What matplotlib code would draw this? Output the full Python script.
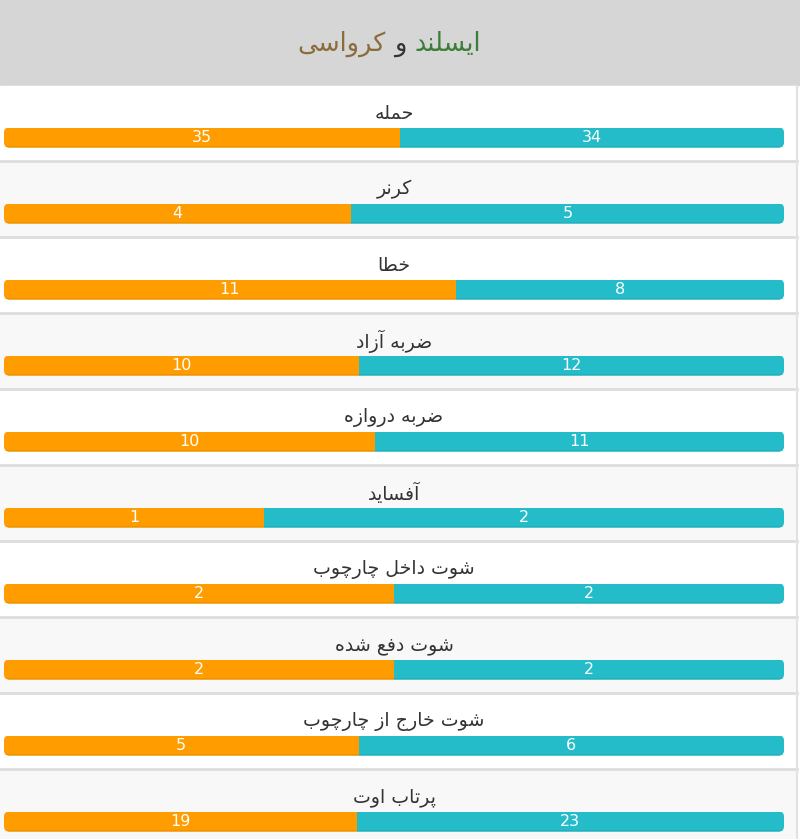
import matplotlib.pyplot as plt
from matplotlib.patches import FancyBboxPatch

# ---------------- داده ها ----------------
title_home = 'ایسلند'
title_and = 'و'
title_away = 'کرواسی'
stats = ['حمله', 'کرنر', 'خطا', 'ضربه آزاد', 'ضربه دروازه', 'آفساید',
         'شوت داخل چارچوب', 'شوت دفع شده', 'شوت خارج از چارچوب', 'پرتاب اوت']
left_vals = [35, 4, 11, 10, 10, 1, 2, 2, 5, 19]
right_vals = [34, 5, 8, 12, 11, 2, 2, 2, 6, 23]

ORANGE = '#fe9c00'
TEAL = '#25bcc9'

# ---------------- شکل دادن حروف عربی/فارسی (matplotlib خودش انجام نمیدهد) ----------------
FORMS = {
    'ا': (0xFE8D, 0xFE8E, None, None), 'آ': (0xFE81, 0xFE82, None, None),
    'ب': (0xFE8F, 0xFE90, 0xFE91, 0xFE92), 'ت': (0xFE95, 0xFE96, 0xFE97, 0xFE98),
    'ث': (0xFE99, 0xFE9A, 0xFE9B, 0xFE9C), 'ج': (0xFE9D, 0xFE9E, 0xFE9F, 0xFEA0),
    'ح': (0xFEA1, 0xFEA2, 0xFEA3, 0xFEA4), 'خ': (0xFEA5, 0xFEA6, 0xFEA7, 0xFEA8),
    'د': (0xFEA9, 0xFEAA, None, None), 'ذ': (0xFEAB, 0xFEAC, None, None),
    'ر': (0xFEAD, 0xFEAE, None, None), 'ز': (0xFEAF, 0xFEB0, None, None),
    'س': (0xFEB1, 0xFEB2, 0xFEB3, 0xFEB4), 'ش': (0xFEB5, 0xFEB6, 0xFEB7, 0xFEB8),
    'ص': (0xFEB9, 0xFEBA, 0xFEBB, 0xFEBC), 'ض': (0xFEBD, 0xFEBE, 0xFEBF, 0xFEC0),
    'ط': (0xFEC1, 0xFEC2, 0xFEC3, 0xFEC4), 'ظ': (0xFEC5, 0xFEC6, 0xFEC7, 0xFEC8),
    'ع': (0xFEC9, 0xFECA, 0xFECB, 0xFECC), 'غ': (0xFECD, 0xFECE, 0xFECF, 0xFED0),
    'ف': (0xFED1, 0xFED2, 0xFED3, 0xFED4), 'ق': (0xFED5, 0xFED6, 0xFED7, 0xFED8),
    'ك': (0xFED9, 0xFEDA, 0xFEDB, 0xFEDC), 'ل': (0xFEDD, 0xFEDE, 0xFEDF, 0xFEE0),
    'م': (0xFEE1, 0xFEE2, 0xFEE3, 0xFEE4), 'ن': (0xFEE5, 0xFEE6, 0xFEE7, 0xFEE8),
    'ه': (0xFEE9, 0xFEEA, 0xFEEB, 0xFEEC), 'و': (0xFEED, 0xFEEE, None, None),
    'ي': (0xFEF1, 0xFEF2, 0xFEF3, 0xFEF4),
    'پ': (0xFB56, 0xFB57, 0xFB58, 0xFB59), 'چ': (0xFB7A, 0xFB7B, 0xFB7C, 0xFB7D),
    'ژ': (0xFB8A, 0xFB8B, None, None), 'ک': (0xFB8E, 0xFB8F, 0xFB90, 0xFB91),
    'گ': (0xFB92, 0xFB93, 0xFB94, 0xFB95), 'ی': (0xFBFC, 0xFBFD, 0xFBFE, 0xFBFF),
}


def dual(c):
    return c in FORMS and FORMS[c][2] is not None


def shape(s):
    out = []
    for i, c in enumerate(s):
        if c not in FORMS:
            out.append(c)
            continue
        prev_c = s[i - 1] if i > 0 else ''
        next_c = s[i + 1] if i + 1 < len(s) else ''
        to_prev = dual(prev_c)
        to_next = dual(c) and next_c in FORMS
        iso, fin, ini, med = FORMS[c]
        if to_prev and to_next:
            g = med
        elif to_prev:
            g = fin
        elif to_next:
            g = ini
        else:
            g = iso
        out.append(chr(g))
    return ''.join(out)[::-1]


# ---------------- رسم ----------------
plt.rcParams['font.family'] = ['DejaVu Sans']
fig = plt.figure(figsize=(8, 8.39), dpi=100)
ax = fig.add_axes([0, 0, 1, 1])
ax.set_xlim(-4 / 780, 796 / 780)   # 0..1 = طول نوار
ax.set_ylim(839, 0)                 # پیکسل
ax.axis('off')

ax.axhspan(0, 85, color='#d6d6d6', zorder=0)

row_h = 76
top = 86
for i, (name, a, b) in enumerate(zip(stats, left_vals, right_vals)):
    y0 = top + i * row_h
    bg = 'white' if i % 2 == 0 else '#f8f8f8'
    ax.axhspan(y0, y0 + row_h, xmin=0, xmax=797 / 800, color=bg, zorder=0)
    ax.axhline(y0 + row_h - 1, xmin=0, xmax=797 / 800, color='#dddddd', lw=2, zorder=1)

    frac = a / (a + b)
    yc = y0 + 51.5
    h = 20
    bars = ax.barh([yc, yc], [frac, 1 - frac], left=[0, frac], height=h,
                   color=[ORANGE, TEAL], zorder=2)
    shadow = ax.barh([yc + h / 2 - 1, yc + h / 2 - 1], [frac, 1 - frac], left=[0, frac],
                     height=2, color=['#ee9200', '#22b0bc'], zorder=3)
    clip = FancyBboxPatch((0, yc - h / 2), 1, h,
                          boxstyle='round,pad=0,rounding_size=0.007',
                          mutation_aspect=700, transform=ax.transData,
                          facecolor='none', edgecolor='none')
    ax.add_patch(clip)
    for p in list(bars) + list(shadow):
        p.set_clip_path(clip)

    ax.text(frac / 2, yc + 0.5, str(a), ha='center', va='center', color='white',
            fontsize=11.5, zorder=4)
    ax.text(frac + (1 - frac) / 2, yc + 0.5, str(b), ha='center', va='center',
            color='white', fontsize=11.5, zorder=4)
    ax.text(0.5, yc - 24, shape(name), ha='center', va='center', color='#333333',
            fontsize=13.6, zorder=4)

# خط کناری راست
ax.axvline(793 / 780, ymin=0, ymax=1 - 86 / 839, color='#e2e2e2', lw=1.5, zorder=1)

# عنوان سه رنگ
t_and = ax.text(396 / 780, 44, shape(title_and), ha='center', va='center',
                color='#333333', fontsize=18.4)
ax.annotate(shape(title_away), xy=(0, 0.5), xycoords=t_and, xytext=(-6, 0),
            textcoords='offset points', ha='right', va='center', color='#8b6d3c', fontsize=18.4)
ax.annotate(shape(title_home), xy=(1, 0.5), xycoords=t_and, xytext=(6, 0),
            textcoords='offset points', ha='left', va='center', color='#3c7d38', fontsize=18.4)

fig.savefig('out.png', dpi=100)
